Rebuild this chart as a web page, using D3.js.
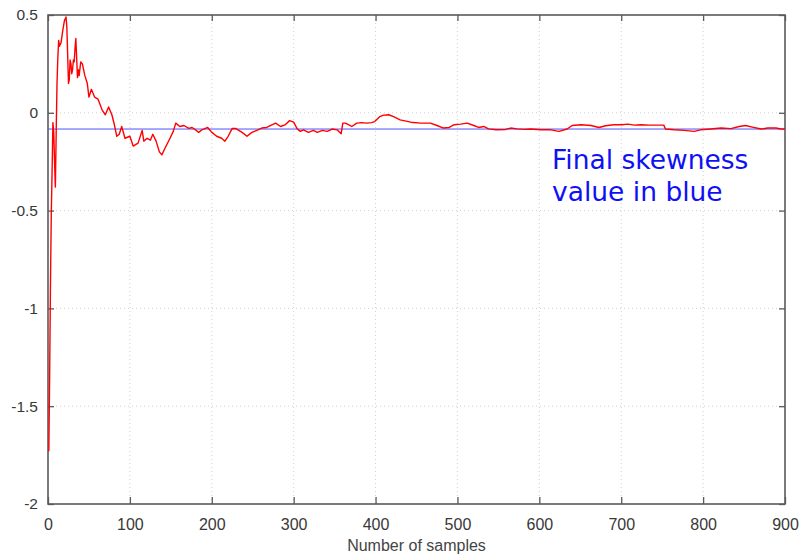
<!DOCTYPE html>
<html>
<head>
<meta charset="utf-8">
<script src="https://cdn.jsdelivr.net/npm/d3@7"></script>
<style>
    body { margin: 0; background: #fff; }
    svg { display: block; }
</style>
</head>
<body>
<div id="chart"></div>
<script>
// running skewness estimate
const samples = [1, 2, 3, 4, 5, 6, 7, 8, 9, 10, 11, 12, 13, 14, 16, 18, 20, 22, 23, 24,
    25, 26, 27, 28, 29, 30, 31, 32, 33, 34, 35, 36, 37, 38, 40, 42, 43, 45, 48, 50,
    53, 57, 61, 66, 70, 74, 78, 81, 84, 87, 90, 94, 100, 104, 110, 115, 117, 121, 125, 128,
    132, 136, 139, 143, 149, 153, 156, 161, 166, 172, 176, 180, 184, 188, 195, 200, 206, 212, 216, 220,
    225, 229, 233, 237, 243, 249, 255, 261, 267, 274, 278, 284, 290, 295, 300, 304, 308, 312, 318, 324,
    329, 335, 341, 347, 353, 358, 360, 363, 367, 371, 377, 383, 389, 395, 399, 405, 410, 416, 422, 430,
    443, 455, 467, 475, 483, 490, 496, 504, 512, 520, 526, 532, 538, 547, 559, 565, 573, 582, 589, 602,
    614, 624, 634, 640, 651, 663, 673, 681, 691, 701, 708, 716, 724, 734, 744, 752, 754, 765, 777, 789,
    797, 809, 822, 834, 844, 852, 860, 871, 879, 889, 895, 900];
const skewness = [-1.73, -1.35, -0.88, -0.52, -0.30, -0.05, -0.10, -0.25, -0.38, -0.10, 0.15, 0.28, 0.37, 0.34, 0.36, 0.42, 0.47, 0.49, 0.44, 0.30,
    0.15, 0.17, 0.27, 0.25, 0.20, 0.22, 0.27, 0.26, 0.33, 0.38, 0.28, 0.18, 0.22, 0.19, 0.26, 0.25, 0.23, 0.19, 0.15, 0.08,
    0.12, 0.08, 0.07, 0.015, -0.01, 0.03, -0.01, -0.06, -0.12, -0.11, -0.07, -0.13, -0.12, -0.17, -0.155, -0.09, -0.145, -0.13, -0.14, -0.11,
    -0.145, -0.20, -0.215, -0.18, -0.13, -0.095, -0.053, -0.07, -0.065, -0.08, -0.075, -0.087, -0.10, -0.087, -0.075, -0.10, -0.12, -0.13, -0.145, -0.12,
    -0.08, -0.08, -0.09, -0.10, -0.12, -0.10, -0.09, -0.078, -0.075, -0.06, -0.053, -0.07, -0.06, -0.04, -0.048, -0.08, -0.095, -0.087, -0.10, -0.09,
    -0.10, -0.09, -0.095, -0.083, -0.087, -0.107, -0.053, -0.053, -0.06, -0.07, -0.053, -0.05, -0.053, -0.05, -0.045, -0.02, -0.012, -0.01, -0.02, -0.036,
    -0.048, -0.053, -0.053, -0.065, -0.078, -0.075, -0.061, -0.058, -0.053, -0.065, -0.075, -0.07, -0.082, -0.087, -0.085, -0.078, -0.082, -0.085, -0.083, -0.087,
    -0.087, -0.095, -0.083, -0.065, -0.061, -0.065, -0.075, -0.066, -0.061, -0.061, -0.058, -0.063, -0.061, -0.063, -0.063, -0.063, -0.083, -0.087, -0.09, -0.095,
    -0.087, -0.083, -0.078, -0.081, -0.07, -0.065, -0.073, -0.083, -0.078, -0.078, -0.083, -0.083];
const finalSkewness = -0.083;

const xTicks = [0, 100, 200, 300, 400, 500, 600, 700, 800, 900];
const yTicks = [0.5, 0, -0.5, -1, -1.5, -2];
const yTickLabels = ["0.5", "0", "-0.5", "-1", "-1.5", "-2"];
const noteLines = ["Final skewness", "value in blue"];

const width = 802, height = 556;
const margin = {top: 15, right: 17, bottom: 52, left: 48};

const svg = d3.select("#chart").append("svg")
    .attr("width", width)
    .attr("height", height);

const xScale = d3.scaleLinear()
    .domain([0, 900])
    .range([margin.left, width - margin.right]);
const yScale = d3.scaleLinear()
    .domain([-2, 0.5])
    .range([height - margin.bottom, margin.top]);

// dotted grid
svg.append("g")
    .selectAll("line")
    .data(xTicks.slice(1, -1))
    .join("line")
    .attr("x1", d => xScale(d)).attr("x2", d => xScale(d))
    .attr("y1", yScale(0.5)).attr("y2", yScale(-2))
    .attr("stroke", "#d0d0d0")
    .attr("stroke-dasharray", "1,3");
svg.append("g")
    .selectAll("line")
    .data(yTicks.slice(1, -1))
    .join("line")
    .attr("x1", xScale(0)).attr("x2", xScale(900))
    .attr("y1", d => yScale(d)).attr("y2", d => yScale(d))
    .attr("stroke", "#d0d0d0")
    .attr("stroke-dasharray", "1,3");

// axes, ticks pointing inward on all four sides
const axisColor = "#5a5a5a";
const styleAxis = g => {
    g.select(".domain").remove();
    g.selectAll(".tick line").attr("stroke", axisColor).attr("stroke-width", 1.3);
};
svg.append("g")
    .attr("transform", `translate(0,${yScale(-2)})`)
    .call(d3.axisBottom(xScale).tickValues(xTicks).tickSize(-7).tickPadding(15).tickFormat(d3.format("d")))
    .call(styleAxis)
    .call(g => g.selectAll("text")
        .attr("font-family", "Liberation Sans, Arial, sans-serif")
        .attr("font-size", 16)
        .attr("fill", "#383838"));
svg.append("g")
    .attr("transform", `translate(0,${yScale(0.5)})`)
    .call(d3.axisTop(xScale).tickValues(xTicks).tickSize(-6).tickFormat(""))
    .call(styleAxis);
svg.append("g")
    .attr("transform", `translate(${xScale(0)},0)`)
    .call(d3.axisLeft(yScale).tickValues(yTicks).tickSize(-6).tickPadding(10)
        .tickFormat((d, i) => yTickLabels[i]))
    .call(styleAxis)
    .call(g => g.selectAll("text")
        .attr("font-family", "Liberation Sans, Arial, sans-serif")
        .attr("font-size", 15.5)
        .attr("fill", "#383838"));
svg.append("g")
    .attr("transform", `translate(${xScale(900)},0)`)
    .call(d3.axisRight(yScale).tickValues(yTicks).tickSize(-6).tickFormat(""))
    .call(styleAxis);

svg.append("rect")
    .attr("x", xScale(0))
    .attr("y", yScale(0.5))
    .attr("width", xScale(900) - xScale(0))
    .attr("height", yScale(-2) - yScale(0.5))
    .attr("fill", "none")
    .attr("stroke", axisColor)
    .attr("stroke-width", 1.6);

// final value reference line
svg.append("line")
    .attr("x1", xScale(0)).attr("x2", xScale(900))
    .attr("y1", yScale(finalSkewness)).attr("y2", yScale(finalSkewness))
    .attr("stroke", "#5050ff")
    .attr("stroke-width", 1);

const line = d3.line()
    .x((d, i) => xScale(samples[i]))
    .y(d => yScale(d));

svg.append("path")
    .attr("d", line(skewness))
    .attr("fill", "none")
    .attr("stroke", "#ff0000")
    .attr("stroke-width", 1.4)
    .attr("stroke-linejoin", "round");

svg.append("text")
    .attr("x", (xScale(0) + xScale(900)) / 2)
    .attr("y", 551)
    .attr("text-anchor", "middle")
    .attr("font-family", "Liberation Sans, Arial, sans-serif")
    .attr("font-size", 16)
    .attr("fill", "#444")
    .text("Number of samples");

svg.append("g")
    .selectAll("text")
    .data(noteLines)
    .join("text")
    .attr("x", 552)
    .attr("y", (d, i) => 169 + i * 31.5)
    .attr("font-family", "DejaVu Sans, Verdana, sans-serif")
    .attr("font-size", 26.5)
    .attr("fill", "#1010f5")
    .text(d => d);
</script>
</body>
</html>
